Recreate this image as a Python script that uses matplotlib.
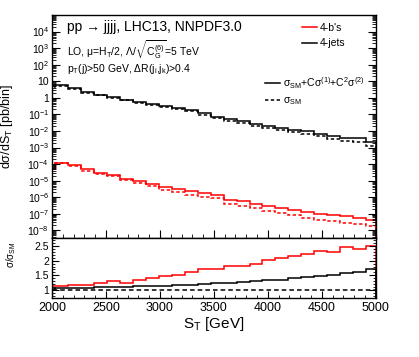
import math

import matplotlib
matplotlib.use("Agg")
import matplotlib.pyplot as plt
from matplotlib.lines import Line2D
from matplotlib.ticker import FixedLocator, FuncFormatter, LogLocator, MultipleLocator, NullFormatter

plt.rcParams["font.family"] = ["Liberation Sans", "DejaVu Sans"]
plt.rcParams["mathtext.fontset"] = "custom"
plt.rcParams["mathtext.rm"] = "Liberation Sans"
plt.rcParams["mathtext.it"] = "Liberation Sans:italic"
plt.rcParams["mathtext.default"] = "regular"

# ── data ──────────────────────────────────────────────────────────────────────
st_edges = [2000, 2030, 2150, 2270, 2390, 2510, 2630, 2750, 2870, 2990, 3110,
            3230, 3350, 3470, 3590, 3710, 3830, 3950, 4070, 4190, 4310, 4430,
            4550, 4670, 4790, 4910, 5000]

jets_full = [5.0, 5.77, 3.65, 2.27, 1.58, 1.13, 0.79, 0.565, 0.41, 0.324,
             0.245, 0.178, 0.117, 0.070, 0.051, 0.0385, 0.0254, 0.0192,
             0.0152, 0.0122, 0.0096, 0.0070, 0.0050, 0.0040, 0.0035, 0.00216]
jets_ratio = [1.06, 1.07, 1.08, 1.09, 1.10, 1.11, 1.12, 1.13, 1.14, 1.16,
              1.17, 1.19, 1.21, 1.23, 1.25, 1.28, 1.30, 1.33, 1.36, 1.40,
              1.44, 1.48, 1.53, 1.58, 1.63, 1.70]

bs_full = [5.35e-5, 1.23e-4, 9.3e-5, 4.85e-5, 3.06e-5, 2.32e-5, 1.33e-5,
           9.5e-6, 6.6e-6, 4.13e-6, 3.0e-6, 2.27e-6, 1.74e-6, 1.44e-6,
           7.2e-7, 5.65e-7, 4.1e-7, 2.94e-7, 2.22e-7, 1.78e-7, 1.28e-7,
           1.02e-7, 8.9e-8, 7.0e-8, 5.85e-8, 4.4e-8]
bs_ratio = [1.13, 1.13, 1.17, 1.19, 1.24, 1.30, 1.26, 1.36, 1.42, 1.48,
            1.53, 1.61, 1.70, 1.72, 1.81, 1.81, 1.89, 2.01, 2.09, 2.17,
            2.23, 2.31, 2.28, 2.46, 2.40, 2.48]

jets_sm = [f / r for f, r in zip(jets_full, jets_ratio)]
bs_sm = [f / r for f, r in zip(bs_full, bs_ratio)]
sm_ratio = [1.0] * len(jets_full)

x_ticks = [2000, 2500, 3000, 3500, 4000, 4500, 5000]
ratio_ticks = [1, 1.5, 2, 2.5]

# ── figure ────────────────────────────────────────────────────────────────────
fig = plt.figure(figsize=(4.19, 3.57), dpi=100)
ax = fig.add_axes([0.124, 0.3325, 0.773, 0.6255])
rx = fig.add_axes([0.124, 0.1644, 0.773, 0.1681], sharex=ax)

DASH = (0, (2.2, 1.6))
lw = 1.1
ax.stairs(jets_full, st_edges, color="black", lw=lw)
ax.stairs(jets_sm, st_edges, color="black", lw=lw, linestyle=DASH)
ax.stairs(bs_full, st_edges, color="red", lw=lw)
ax.stairs(bs_sm, st_edges, color="red", lw=lw, linestyle=DASH)

ax.set_yscale("log")
ax.set_ylim(3.3e-9, 1e5)
ax.set_xlim(2000, 5000)


def _pow10(v, pos):
    e = int(round(math.log10(v)))
    if e == 0:
        return "1"
    if e == 1:
        return "10"
    return r"$10^{%d}$" % e


ax.yaxis.set_major_locator(FixedLocator([10.0 ** e for e in range(-8, 5)]))
ax.yaxis.set_major_formatter(FuncFormatter(_pow10))
ax.yaxis.set_minor_locator(LogLocator(base=10, subs=range(2, 10), numticks=30))
ax.yaxis.set_minor_formatter(NullFormatter())
ax.tick_params(axis="y", which="both", direction="in", left=True, right=True,
               labelsize=7.5, pad=2)
ax.tick_params(axis="y", which="major", length=6)
ax.tick_params(axis="y", which="minor", length=3)
ax.tick_params(axis="x", which="both", direction="in", bottom=True, top=False,
               labelbottom=False)
ax.tick_params(axis="x", which="major", length=6)
ax.tick_params(axis="x", which="minor", length=3)
ax.set_ylabel(r"d$\sigma$/dS$_T$ [pb/bin]", fontsize=9)
ax.yaxis.set_label_coords(-0.114, 0.5)

# texts
ax.text(0.045, 0.945, "pp \u2192 jjjj, LHC13, NNPDF3.0",
        transform=ax.transAxes, fontsize=10, va="center", ha="left")
ax.text(0.045, 0.845, r"LO, $\mu$=H$_T$/2, $\Lambda/\sqrt{C_G^{(6)}}$=5 TeV",
        transform=ax.transAxes, fontsize=7.5, va="center", ha="left")
ax.text(0.045, 0.76, r"p$_T$(j)>50 GeV, $\Delta$R(j$_i$,j$_k$)>0.4",
        transform=ax.transAxes, fontsize=7.5, va="center", ha="left")

leg1 = ax.legend(handles=[Line2D([], [], color="red", lw=lw),
                          Line2D([], [], color="black", lw=lw)],
                 labels=["4-b's", "4-jets"], loc="upper left",
                 bbox_to_anchor=(0.76, 0.985), frameon=False, fontsize=7.5,
                 handlelength=1.4, handletextpad=0.3, labelspacing=0.55,
                 borderaxespad=0)
ax.add_artist(leg1)
ax.legend(handles=[Line2D([], [], color="black", lw=lw),
                   Line2D([], [], color="black", lw=lw, linestyle=DASH)],
          labels=[r"$\sigma_{SM}$+C$\sigma^{(1)}$+C$^2\sigma^{(2)}$",
                  r"$\sigma_{SM}$"],
          loc="upper left", bbox_to_anchor=(0.645, 0.75), frameon=False,
          fontsize=7.5, handlelength=1.4, handletextpad=0.3,
          labelspacing=0.45, borderaxespad=0)

# ratio panel
rx.stairs(bs_ratio, st_edges, color="red", lw=lw)
rx.stairs(jets_ratio, st_edges, color="black", lw=lw)
rx.stairs(sm_ratio, st_edges, color="black", lw=lw, linestyle=(0, (3, 2)))
rx.set_ylim(0.73, 2.75)
rx.yaxis.set_major_locator(FixedLocator(ratio_ticks))
rx.yaxis.set_major_formatter(FuncFormatter(lambda v, p: f"{v:g}"))
rx.yaxis.set_minor_locator(MultipleLocator(0.1))
rx.xaxis.set_major_locator(FixedLocator(x_ticks))
rx.xaxis.set_minor_locator(MultipleLocator(100))
rx.tick_params(axis="both", which="both", direction="in", left=True,
               right=True, bottom=True, top=False)
rx.tick_params(axis="y", which="major", length=5, labelsize=7.5, pad=2)
rx.tick_params(axis="y", which="minor", length=2.5)
rx.tick_params(axis="x", which="major", length=5, labelsize=9, pad=3)
rx.tick_params(axis="x", which="minor", length=2.5)
rx.set_ylabel(r"$\sigma/\sigma_{SM}$", fontsize=7)
rx.yaxis.set_label_coords(-0.105, 0.72)
rx.set_xlabel(r"S$_T$ [GeV]", fontsize=11)
rx.xaxis.set_label_coords(0.5, -0.27)

for a in (ax, rx):
    for s in a.spines.values():
        s.set_linewidth(1.0)

fig.savefig("out.png", dpi=100)
